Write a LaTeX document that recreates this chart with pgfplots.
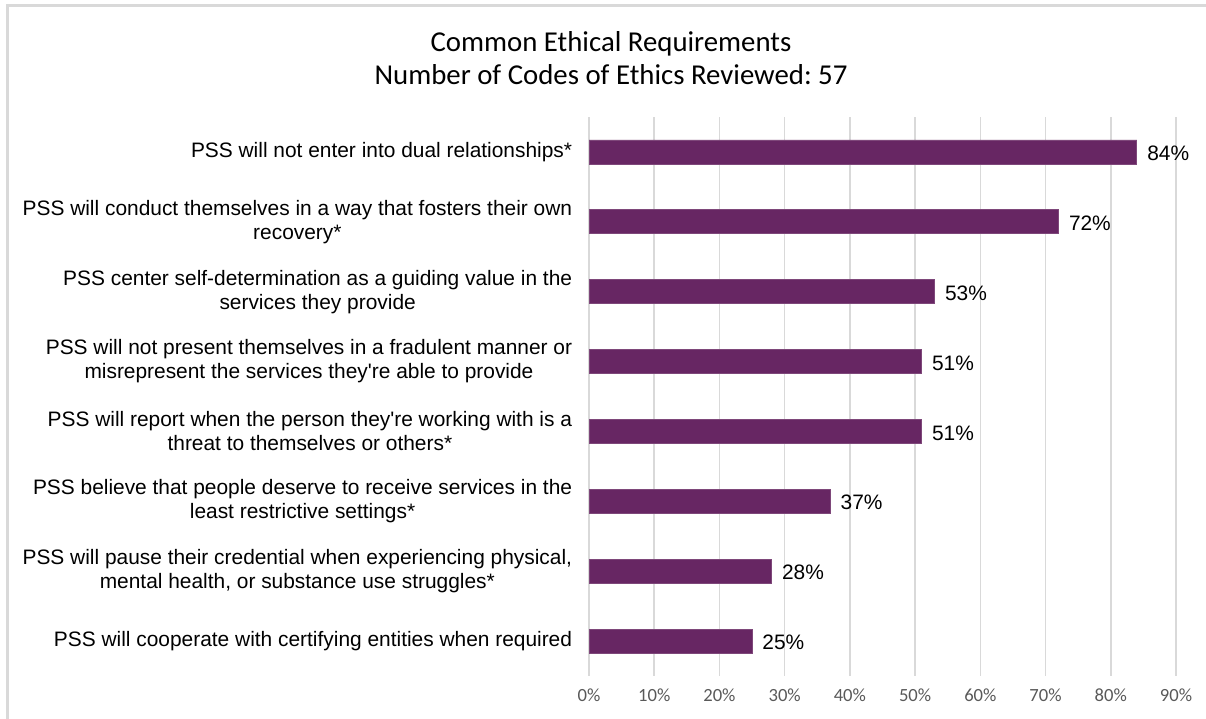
\documentclass[border=0pt]{standalone}
\usepackage{fontspec}
\setmainfont[Ligatures=TeXOff]{Liberation Sans}
\newfontfamily\calibri{Carlito}
\usepackage{pgfplots}
\pgfplotsset{compat=1.18}
\definecolor{barpurple}{HTML}{672663}
\definecolor{gridgray}{HTML}{D9D9D9}
\definecolor{ticktext}{HTML}{595959}
\frenchspacing
\begin{document}
\begin{tikzpicture}
\useasboundingbox (0,0) rectangle (603bp,-359.5bp);
% outer chart frame
\draw[gridgray, line width=1.2bp] (3.75bp,-359.5bp) -- (3.75bp,-2.75bp) -- (603bp,-2.75bp);
\node[font=\calibri\fontsize{14.4bp}{16.5bp}\selectfont, align=center] at (305.5bp,-29.25bp)
  {Common Ethical Requirements\\Number of Codes of Ethics Reviewed: 57};
\begin{axis}[
    at={(294.5bp,-338bp)}, anchor=south west,
    scale only axis,
    width=293.5bp, height=279.5bp,
    xbar,
    bar width=12bp,
    xmin=0, xmax=90,
    ymin=-0.5, ymax=7.5,
    y dir=reverse,
    axis line style={draw=none},
    tick style={draw=none},
    xmajorgrids=true,
    grid style={gridgray, line width=0.8bp},
    xtick={0,10,20,30,40,50,60,70,80,90},
    xticklabels={0\%,10\%,20\%,30\%,40\%,50\%,60\%,70\%,80\%,90\%},
    xticklabel style={font=\calibri\fontsize{9.3bp}{11bp}\selectfont, text=ticktext, inner sep=0pt, yshift=-6bp},
    ytick={0,1,2,3,4,5,6,7},
    yticklabels={
        {PSS will not enter into dual relationships*},
        {PSS will conduct themselves in a way that fosters their own\\recovery*},
        {PSS center self-determination as a guiding value in the\\services they provide},
        {PSS will not present themselves in a fradulent manner or\\misrepresent the services they're able to provide},
        {PSS will report when the person they're working with is a\\threat to themselves or others*},
        {PSS believe that people deserve to receive services in the\\least restrictive settings*},
        {PSS will pause their credential when experiencing physical,\\mental health, or substance use struggles*},
        {PSS will cooperate with certifying entities when required}},
    yticklabel style={font=\fontsize{10.45bp}{12bp}\selectfont, align=center, inner sep=0pt, xshift=-4bp},
    /pgf/number format/assume math mode=true,
    point meta=x,
    nodes near coords={\pgfmathprintnumber{\pgfplotspointmeta}\%},
    nodes near coords style={font=\fontsize{10.45bp}{12bp}\selectfont, text=black, anchor=base west, inner sep=0pt, xshift=5bp, yshift=-4.3bp},
]
\addplot[fill=barpurple, draw=barpurple!85] coordinates {
    (84,0) (72,1) (53,2) (51,3) (51,4) (37,5) (28,6) (25,7)
};
\end{axis}
\end{tikzpicture}
\end{document}
